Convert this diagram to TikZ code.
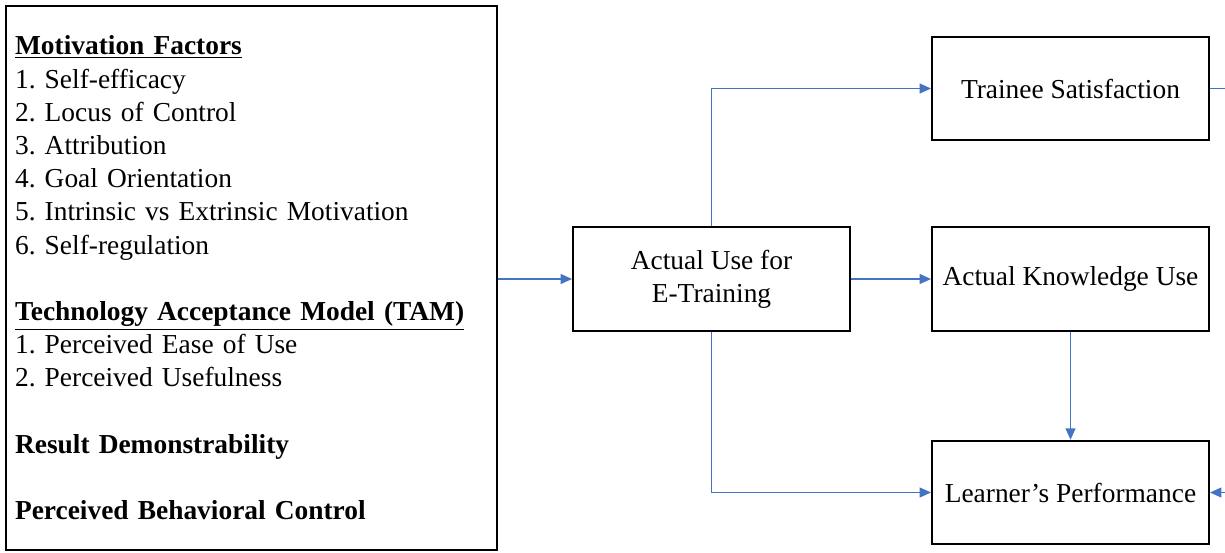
\documentclass[tikz,border=0pt]{standalone}
\usepackage{fontspec}
\setmainfont{Liberation Serif}
\usepackage{tikz}
\usetikzlibrary{arrows.meta}
\definecolor{linkblue}{HTML}{4472C4}
\frenchspacing

\begin{document}
\begin{tikzpicture}[
    x=0.02cm, y=-0.02cm,
    font=\fontsize{15.6}{18.9}\selectfont,
    >={Triangle[length=6.5pt,width=5.6pt]},
    box/.style={draw, line width=1.1pt, minimum width=5.54cm, minimum height=2.07cm, align=center, inner sep=0pt},
    link/.style={draw=linkblue, color=linkblue, line width=0.9pt}
]
    \useasboundingbox (0,0) rectangle (1225,552);

    % Factor list
    \node[draw, line width=1.1pt, minimum width=9.82cm, minimum height=10.88cm,
          text width=9.46cm, inner xsep=0.18cm, align=left] (factors) at (251.5,278) {%
        \textbf{\underline{Motivation Factors}}\\
        1. Self-efficacy\\
        2. Locus of Control\\
        3. Attribution\\
        4. Goal Orientation\\
        5. Intrinsic vs Extrinsic Motivation\\
        6. Self-regulation\\[18.9pt]
        \textbf{\underline{Technology Acceptance Model (TAM)}}\\
        1. Perceived Ease of Use\\
        2. Perceived Usefulness\\[18.9pt]
        \textbf{Result Demonstrability}\\[18.9pt]
        \textbf{Perceived Behavioral Control}};

    % Boxes
    \node[box] (use) at (711.5,279) {Actual Use for\\E-Training};
    \node[box] (sat) at (1070.5,88.5) {Trainee Satisfaction};
    \node[box] (know) at (1070.5,279) {Actual Knowledge Use};
    \node[box] (perf) at (1070.5,492.5) {Learner's Performance};

    % Loose ends at the right margin
    \coordinate (satout) at (1225,88.5);
    \coordinate (perfin) at (1225,492.5);

    % Links
    \draw[link,->] (factors.east |- use.west) -- (use.west);
    \draw[link,->] (use.north) |- (sat.west);
    \draw[link,->] (use.east) -- (know.west);
    \draw[link,->] (use.south) |- (perf.west);
    \draw[link,->] (know.south) -- (perf.north);
    \draw[link] (sat.east) -- (satout);
    \draw[link,->] (perfin) -- (perf.east);
\end{tikzpicture}
\end{document}
